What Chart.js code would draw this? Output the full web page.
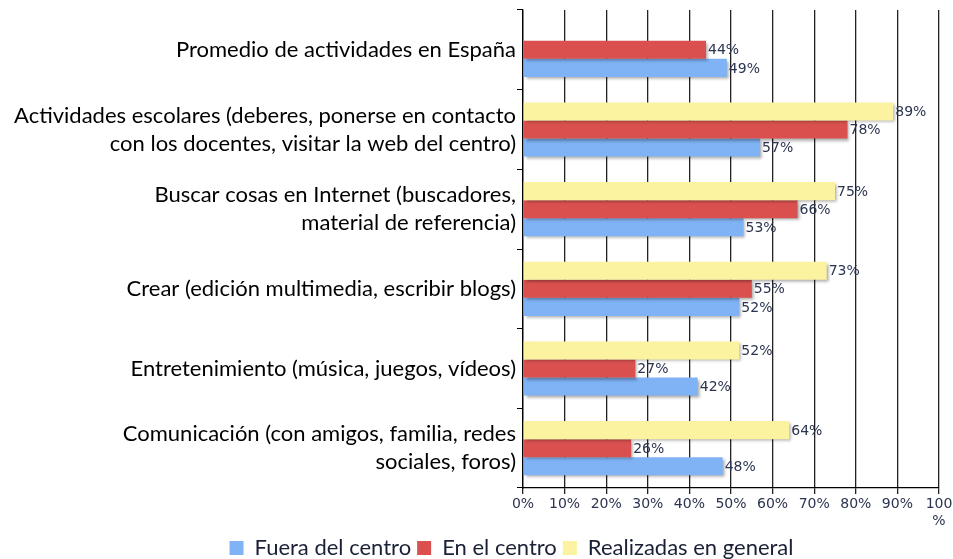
<!DOCTYPE html>
<html>
<head>
<meta charset="utf-8">
<script src="https://cdn.jsdelivr.net/npm/chart.js@4.4.1/dist/chart.umd.min.js"></script>
<style>
body{margin:0;background:#fff;}
#wrap{width:953px;height:559px;}
</style>
</head>
<body>
<div id="wrap"><canvas id="mycanvas" width="953" height="559"></canvas></div>
<script>
// datos
var categorias = [
	"Promedio de actividades en España",
	["Actividades escolares (deberes, ponerse en contacto", "con los docentes, visitar la web del centro)"],
	["Buscar cosas en Internet (buscadores,", "material de referencia)"],
	"Crear (edición multimedia, escribir blogs)",
	"Entretenimiento (música, juegos, vídeos)",
	["Comunicación (con amigos, familia, redes", "sociales, foros)"]
];
var fueraDelCentro = [49, 57, 53, 52, 42, 48];
var enElCentro = [44, 78, 66, 55, 27, 26];
var realizadasEnGeneral = [null, 89, 75, 73, 52, 64];
var ticksX = ["0%", "10%", "20%", "30%", "40%", "50%", "60%", "70%", "80%", "90%", ["100", "%"]];

// sombra de las barras
var sombra = {
	id: 'sombra',
	beforeDatasetsDraw: function(chart){
		var c = chart.ctx;
		c.save();
		c.shadowColor = 'rgba(0,0,0,0.35)';
		c.shadowOffsetX = 2;
		c.shadowOffsetY = 2;
		c.shadowBlur = 3;
	},
	afterDatasetsDraw: function(chart){
		chart.ctx.restore();
	}
};

// etiquetas de valor al final de cada barra
var etiquetas = {
	id: 'etiquetas',
	afterDatasetsDraw: function(chart){
		var ctx = chart.ctx;
		ctx.save();
		ctx.font = '14px "DejaVu Sans"';
		ctx.fillStyle = '#2b3450';
		ctx.textBaseline = 'middle';
		chart.data.datasets.forEach(function(ds, i){
			var meta = chart.getDatasetMeta(i);
			meta.data.forEach(function(bar, j){
				if (ds.data[j] == null) return;
				ctx.fillText(ds.data[j] + '%', bar.x + 2, bar.y + 1);
			});
		});
		ctx.restore();
	},
	afterLayout: function(chart){
		// la leyenda del original esta desplazada a la derecha
		chart.legend.left += 42;
		chart.legend.right += 42;
	}
};

var ctx = document.getElementById('mycanvas');
var grafico = new Chart(ctx, {
	type: 'bar',
	data: {
		labels: categorias,
		datasets: [
			{label: 'Realizadas en general', data: realizadasEnGeneral, backgroundColor: '#fcf3a1'},
			{label: 'En el centro', data: enElCentro, backgroundColor: '#d9504f'},
			{label: 'Fuera del centro', data: fueraDelCentro, backgroundColor: '#7fb3f5'}
		]
	},
	options: {
		indexAxis: 'y',
		responsive: false,
		animation: false,
		categoryPercentage: 0.68,
		barPercentage: 1,
		layout: {padding: {left: 0, top: 10, right: 14, bottom: -10}},
		scales: {
			x: {
				min: 0,
				max: 100,
				ticks: {
					stepSize: 10,
					color: '#2b3450',
					font: {family: '"DejaVu Sans"', size: 14},
					padding: 2,
					callback: function(v, i){ return ticksX[i]; }
				},
				grid: {color: '#222', lineWidth: 1.3, tickLength: 6},
				border: {color: '#000', width: 1.3},
				afterFit: function(s){ s.height = 43; s.paddingLeft = 0; s.paddingRight = 0; }
			},
			y: {
				ticks: {
					color: '#000',
					font: {family: 'Lato', size: 22, lineHeight: 1.27},
					padding: 1
				},
				grid: {offset: true, drawOnChartArea: false, color: '#000', tickLength: 6},
				border: {color: '#000', width: 1.3},
				afterFit: function(s){ s.width = 523; s.paddingTop = 0; s.paddingBottom = 0; }
			}
		},
		plugins: {
			legend: {
				position: 'bottom',
				reverse: true,
				labels: {
					boxWidth: 14,
					boxHeight: 14,
					padding: 6,
					color: '#1a2035',
					font: {family: 'Lato', size: 22}
				}
			},
			tooltip: {enabled: false}
		}
	},
	plugins: [sombra, etiquetas]
});
</script>
</body>
</html>
